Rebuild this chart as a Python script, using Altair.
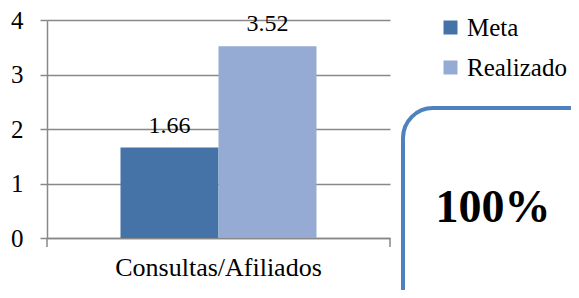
import altair as alt
import pandas as pd

categories = ["Consultas/Afiliados"]
series = ["Meta", "Realizado"]
values = [1.66, 3.52]
labels = ["1.66", "3.52"]
y_ticks = [0, 1, 2, 3, 4]
badge = ["100%"]

colors = ["#4572A7", "#95ABD4"]
FONT = "Liberation Serif"
FS = 25
FX = 26
FV = 24

df = pd.DataFrame({
    "cat": categories * len(series),
    "serie": series,
    "valor": values,
    "etiqueta": labels,
})

W, H = 343, 218

xenc = alt.X("cat:N", title=None,
             scale=alt.Scale(paddingOuter=0.375, paddingInner=0),
             axis=alt.Axis(labelFont=FONT, labelFontSize=FX, labelColor="#000", labelLimit=0,
                           labelAngle=0, labelPadding=16, ticks=False,
                           domainColor="#888888", domainWidth=1.5))
yenc = alt.Y("valor:Q", title=None,
             scale=alt.Scale(domain=[0, 4], nice=False),
             axis=alt.Axis(values=y_ticks, format="d", labelFont=FONT, labelFontSize=FS,
                           labelColor="#000", tickSize=7, tickColor="#888888", tickWidth=1.5,
                           domainColor="#888888", domainWidth=1.5, labelPadding=17,
                           grid=True, gridColor="#888888", gridWidth=1.5))

base = alt.Chart(df)

bars = base.mark_bar(size=98).encode(
    x=xenc,
    xOffset=alt.XOffset("serie:N", sort=series, scale=alt.Scale(paddingInner=0, paddingOuter=0)),
    y=yenc,
    color=alt.Color("serie:N", sort=series,
                    scale=alt.Scale(domain=series, range=colors),
                    legend=alt.Legend(orient="none", legendX=391, legendY=-5, title=None,
                                      symbolType="square", symbolSize=196, symbolStrokeWidth=0,
                                      labelFont=FONT, labelFontSize=FS, labelColor="#000",
                                      rowPadding=14, labelOffset=4, labelLimit=0)),
)

text = base.mark_text(font=FONT, fontSize=FV, color="#000", baseline="alphabetic", dy=-15).encode(
    x=alt.X("cat:N"),
    xOffset=alt.XOffset("serie:N", sort=series),
    y=alt.Y("valor:Q"),
    text="etiqueta:N",
)

edge_ticks = alt.Chart(pd.DataFrame({"p": [0]})).mark_rule(color="#888888", strokeWidth=1.5).encode(
    x=alt.value(0), y=alt.value(H), y2=alt.value(H + 9)
)
edge_ticks2 = alt.Chart(pd.DataFrame({"p": [0]})).mark_rule(color="#888888", strokeWidth=1.5).encode(
    x=alt.value(W), y=alt.value(H), y2=alt.value(H + 9)
)

box = alt.Chart(pd.DataFrame({"b": badge})).mark_rect(
    cornerRadius=30, fill="white", fillOpacity=0, stroke="#4F81BD", strokeWidth=4
).encode(x=alt.value(356), x2=alt.value(560), y=alt.value(88), y2=alt.value(330))

badge_text = alt.Chart(pd.DataFrame({"b": badge})).mark_text(
    font=FONT, fontSize=46, fontWeight="bold", color="#000", baseline="middle", align="center"
).encode(x=alt.value(446), y=alt.value(188), text="b:N")

chart = alt.layer(bars, text, edge_ticks, edge_ticks2, box, badge_text).properties(
    width=W, height=H,
    autosize=alt.AutoSizeParams(type="none"),
    padding={"left": 39, "top": 12, "right": 181, "bottom": 52},
).configure_view(stroke=None).configure_axis(labelFont=FONT).configure_text(font=FONT).configure_legend(labelFont=FONT)

chart.save("out.html", embed_options={"renderer": "svg", "actions": False})
